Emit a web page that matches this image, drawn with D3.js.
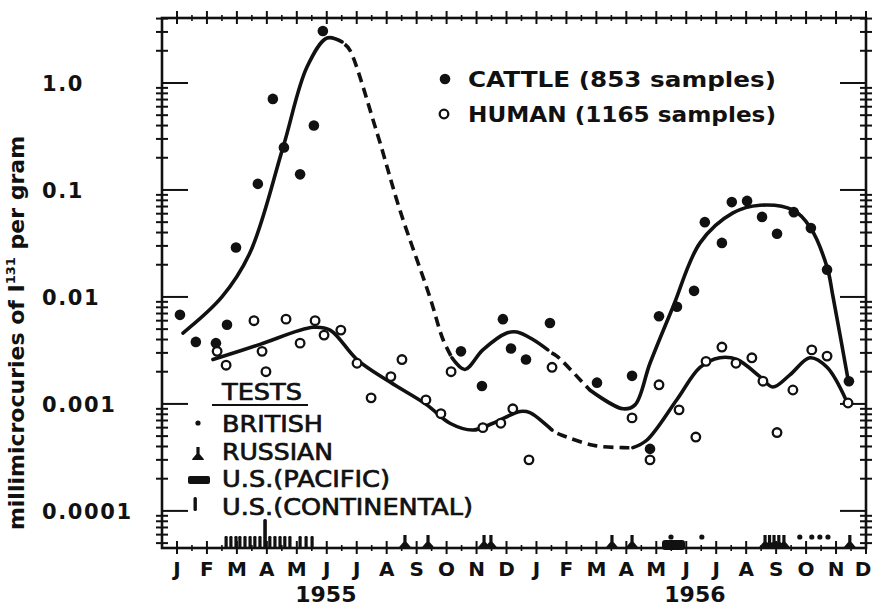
<!DOCTYPE html>
<html><head><meta charset="utf-8">
<script src="https://cdn.jsdelivr.net/npm/d3@7"></script>
<style>body{margin:0;background:#fff}svg{display:block}</style>
</head><body>
<svg id="c" width="872" height="606"></svg>
<script>
// ---------- data ----------
const monthLabels = ["J","F","M","A","M","J","J","A","S","O","N","D","J","F","M","A","M","J","J","A","S","O","N","D"];
const yearLabels = ["1955","1956"];
const yearCenters = [4.97, 17.29];
const yTickValues = [1, 0.1, 0.01, 0.001, 0.0001];
const yTickLabels = ["1.0","0.1","0.01","0.001","0.0001"];

const cattleMonths = [0.10,0.63,1.30,1.67,1.97,2.70,3.20,3.57,4.11,4.57,4.87,9.48,10.18,10.88,11.15,11.65,12.45,14.02,15.19,15.79,16.09,16.69,17.26,17.62,18.19,18.52,19.03,19.53,20.03,20.59,21.16,21.70,22.43];
const cattleValues = [0.0068,0.0038,0.0037,0.0055,0.029,0.114,0.71,0.25,0.14,0.40,3.06,0.0031,0.00147,0.0062,0.0033,0.0026,0.0057,0.00158,0.00183,0.00038,0.0066,0.0081,0.0114,0.050,0.032,0.077,0.079,0.056,0.039,0.062,0.044,0.018,0.00163];

const humanMonths = [1.34,1.64,2.57,2.84,2.97,3.64,4.11,4.61,4.91,5.47,6.01,6.48,7.14,7.51,8.31,8.81,9.15,10.21,10.81,11.21,11.75,12.52,15.19,15.79,16.09,16.76,17.32,17.66,18.19,18.66,19.19,19.56,20.03,20.56,21.19,21.70,22.40];
const humanValues = [0.0031,0.0023,0.0060,0.0031,0.0020,0.0062,0.0037,0.0060,0.0044,0.0049,0.0024,0.00114,0.0018,0.0026,0.00109,0.00081,0.0020,0.00060,0.00066,0.00090,0.00030,0.0022,0.00074,0.00030,0.00151,0.00088,0.00049,0.0025,0.0034,0.0024,0.0027,0.00163,0.00054,0.00135,0.0032,0.0028,0.00102];

// fitted curves: [month, value] knots, solid or dashed pieces
const cattleCurveA = [[0.20,0.0046],[1.50,0.010],[2.44,0.026],[3.54,0.25],[4.34,1.41],[5.01,2.63],[5.51,2.42]];
const cattleCurveB = [[5.60,2.30],[5.77,2.03],[6.68,0.34],[7.44,0.065],[8.44,0.010],[8.88,0.0040],[9.18,0.0027]];
const cattleCurveC = [[9.18,0.0027],[9.61,0.0021],[10.21,0.0032],[11.01,0.0046],[11.35,0.0047],[11.88,0.0040],[12.38,0.0032]];
const cattleCurveD = [[12.50,0.0030],[12.68,0.0028],[13.55,0.00158],[13.78,0.00135]];
const cattleCurveE = [[13.78,0.00135],[14.89,0.00090],[15.29,0.00098],[15.79,0.0024],[16.56,0.0081],[17.46,0.032],[18.56,0.061],[19.46,0.072],[20.56,0.065],[21.13,0.045],[21.70,0.019],[21.90,0.010],[22.40,0.0017]];
const humanCurveA = [[1.20,0.0026],[2.77,0.0036],[4.54,0.0052],[5.11,0.0049],[6.01,0.0026],[7.11,0.0016],[8.34,0.00098],[9.11,0.00066],[9.88,0.00057],[10.55,0.00066],[11.45,0.00085],[11.78,0.00083],[12.52,0.00057]];
const humanCurveB = [[12.70,0.00053],[12.85,0.00051],[13.89,0.00041],[14.89,0.00039],[15.22,0.00039]];
const humanCurveC = [[15.22,0.00039],[15.69,0.00046],[16.69,0.0011],[17.46,0.0022],[18.12,0.0027],[18.69,0.0026],[19.46,0.0018],[19.89,0.00144],[20.46,0.00187],[21.13,0.0027],[21.70,0.0022],[22.36,0.00105]];

// nuclear tests (month positions)
const britishTests = [16.49, 17.52, 20.79, 21.19, 21.46, 21.73];
const russianTests = [7.61, 8.38, 10.25, 10.48, 14.52, 15.19, 19.63, 19.78, 19.93, 20.09, 20.26, 22.46];
const pacificTests = [[16.19, 16.96]];
const continentalTests = [1.64,1.80,1.97,2.10,2.27,2.44,2.60,2.77,3.10,3.27,3.44,3.60,3.77,4.11,4.31,4.51];
const continentalLargeTests = [2.94];

const seriesLegend = ["CATTLE (853 samples)", "HUMAN (1165 samples)"];
const testsLegend = ["BRITISH", "RUSSIAN", "U.S.(PACIFIC)", "U.S.(CONTINENTAL)"];

// ---------- drawing ----------
const ink = "#111";
const svg = d3.select("#c");
svg.append("rect").attr("width",872).attr("height",606).attr("fill","#fff");

const L = 162, R = 866, T = 18, B = 548;
const x = d3.scaleLinear().domain([-0.5, 23]).range([L, R]);
const y = d3.scaleLog().domain([4.5e-5, 4.05]).range([B, T]);

const g = svg.append("g");

// minor y ticks (crossing both axes)
const minor = [];
for (let k = -5; k <= 0; k++) for (let j = 2; j <= 9; j++) {
  const v = j * Math.pow(10, k);
  if (v > 4.5e-5 && v < 4.05) minor.push(v);
}
[L, R].forEach(ax => {
  g.selectAll(null).data(minor).enter().append("line")
    .attr("x1", ax - 6).attr("x2", ax + 6)
    .attr("y1", d => y(d)).attr("y2", d => y(d))
    .attr("stroke", ink).attr("stroke-width", 2);
});
// major y ticks (inward)
g.selectAll(null).data(yTickValues).enter().append("line")
  .attr("x1", L).attr("x2", L + 26).attr("y1", d => y(d)).attr("y2", d => y(d))
  .attr("stroke", ink).attr("stroke-width", 2);
g.selectAll(null).data(yTickValues).enter().append("line")
  .attr("x1", R - 26).attr("x2", R).attr("y1", d => y(d)).attr("y2", d => y(d))
  .attr("stroke", ink).attr("stroke-width", 2);

// x ticks at months and half months (top and bottom)
const monthIdx = d3.range(0, 24);
const halfIdx = d3.range(-0.5, 23, 1).filter(d => d > -0.5);
[T, B].forEach(ay => {
  g.selectAll(null).data(monthIdx).enter().append("line")
    .attr("x1", d => x(d)).attr("x2", d => x(d)).attr("y1", ay - 7).attr("y2", ay + 6)
    .attr("stroke", ink).attr("stroke-width", 2);
  g.selectAll(null).data(halfIdx).enter().append("line")
    .attr("x1", d => x(d)).attr("x2", d => x(d)).attr("y1", ay - 3).attr("y2", ay + 3)
    .attr("stroke", ink).attr("stroke-width", 1.6);
});

// frame
g.append("rect").attr("x", L).attr("y", T).attr("width", R - L).attr("height", B - T)
  .attr("fill", "none").attr("stroke", ink).attr("stroke-width", 2.6);

const font = "'DejaVu Sans', sans-serif";
// month labels (last one kept inside the page edge)
g.selectAll(null).data(monthLabels).enter().append("text")
  .attr("x", (d, i) => Math.min(x(i), 863)).attr("y", 576).attr("text-anchor", "middle")
  .attr("font-family", font).attr("font-weight", "bold").attr("font-size", 20)
  .attr("fill", ink).text(d => d);
g.selectAll(null).data(yearLabels).enter().append("text")
  .attr("x", (d, i) => x(yearCenters[i])).attr("y", 602).attr("text-anchor", "middle")
  .attr("font-family", font).attr("font-weight", "bold").attr("font-size", 22)
  .attr("fill", ink).text(d => d);

// y labels
g.selectAll(null).data(yTickValues).enter().append("text")
  .attr("x", 42).attr("y", d => y(d) + 8).attr("text-anchor", "start")
  .attr("font-family", font).attr("font-weight", "bold").attr("font-size", 21)
  .attr("letter-spacing", 1.6).attr("fill", ink).text((d, i) => yTickLabels[i]);

// y title
const yt = g.append("text").attr("transform", "translate(24,333) rotate(-90)")
  .attr("text-anchor", "middle").attr("font-family", font).attr("font-weight", "bold")
  .attr("font-size", 22).attr("fill", ink);
yt.append("tspan").text("millimicrocuries of I");
yt.append("tspan").attr("font-size", 13).attr("dy", -9).text("131");
yt.append("tspan").attr("dy", 9).text(" per gram");

// curves
const line = d3.line().x(d => x(d[0])).y(d => y(d[1])).curve(d3.curveCatmullRom.alpha(0.5));
const curves = [
  [cattleCurveA, false], [cattleCurveB, true], [cattleCurveC, false], [cattleCurveD, true], [cattleCurveE, false],
  [humanCurveA, false], [humanCurveB, true], [humanCurveC, false]
];
curves.forEach(([pts, dashed]) => {
  g.append("path").attr("d", line(pts)).attr("fill", "none").attr("stroke", ink)
    .attr("stroke-width", 3.6).attr("stroke-linecap", dashed ? "butt" : "round")
    .attr("stroke-dasharray", dashed ? "10,6" : null);
});

// points
g.selectAll(null).data(cattleMonths).enter().append("circle")
  .attr("cx", d => x(d)).attr("cy", (d, i) => y(cattleValues[i])).attr("r", 5.3).attr("fill", ink);
g.selectAll(null).data(humanMonths).enter().append("circle")
  .attr("cx", d => x(d)).attr("cy", (d, i) => y(humanValues[i])).attr("r", 4.3)
  .attr("fill", "#fff").attr("stroke", ink).attr("stroke-width", 2.3);

// test markers
const russianPath = "M-1.6,-13 h3.2 v7 l4.2,5 v1 h-11.6 v-1 l4.2,-5 z";
g.selectAll(null).data(britishTests).enter().append("circle")
  .attr("cx", d => x(d)).attr("cy", B - 11).attr("r", 2.6).attr("fill", ink);
g.selectAll(null).data(russianTests).enter().append("path")
  .attr("transform", d => `translate(${x(d)},${B})`).attr("d", russianPath).attr("fill", ink);
g.selectAll(null).data(pacificTests).enter().append("rect")
  .attr("x", d => x(d[0])).attr("width", d => x(d[1]) - x(d[0])).attr("y", B - 8).attr("height", 10)
  .attr("rx", 3).attr("fill", ink);
g.selectAll(null).data(continentalTests).enter().append("rect")
  .attr("x", d => x(d) - 1.6).attr("width", 3.2).attr("y", B - 12).attr("height", 12)
  .attr("rx", 1.2).attr("fill", ink);
g.selectAll(null).data(continentalLargeTests).enter().append("rect")
  .attr("x", d => x(d) - 1.8).attr("width", 3.6).attr("y", B - 29).attr("height", 29)
  .attr("rx", 1.5).attr("fill", ink);

// series legend
g.append("circle").attr("cx", 445).attr("cy", 79).attr("r", 5.3).attr("fill", ink);
g.append("circle").attr("cx", 444).attr("cy", 114).attr("r", 4.3).attr("fill", "#fff")
  .attr("stroke", ink).attr("stroke-width", 2.3);
g.selectAll(null).data(seriesLegend).enter().append("text")
  .attr("x", 468).attr("y", (d, i) => 87 + i * 35)
  .attr("font-family", font).attr("font-weight", "bold").attr("font-size", 21)
  .attr("textLength", 308).attr("lengthAdjust", "spacingAndGlyphs")
  .attr("fill", ink).text(d => d);

// tests legend
g.append("text").attr("x", 222).attr("y", 400).attr("font-family", font).attr("font-size", 23)
  .attr("stroke", ink).attr("stroke-width", 0.7)
  .attr("textLength", 80).attr("lengthAdjust", "spacingAndGlyphs").attr("fill", ink).text("TESTS");
g.append("line").attr("x1", 212).attr("x2", 308).attr("y1", 405).attr("y2", 405)
  .attr("stroke", ink).attr("stroke-width", 2);
const testWidths = [101, 111, 168, 251];
g.selectAll(null).data(testsLegend).enter().append("text")
  .attr("x", 222).attr("y", (d, i) => 432 + i * 27.5)
  .attr("font-family", font).attr("font-size", 23)
  .attr("stroke", ink).attr("stroke-width", 0.7)
  .attr("textLength", (d, i) => testWidths[i]).attr("lengthAdjust", "spacingAndGlyphs")
  .attr("fill", ink).text(d => d);
g.append("circle").attr("cx", 198).attr("cy", 423).attr("r", 2.6).attr("fill", ink);
g.append("path").attr("transform", "translate(198,460)").attr("d", russianPath).attr("fill", ink);
g.append("rect").attr("x", 188).attr("y", 476).attr("width", 22).attr("height", 8).attr("rx", 2).attr("fill", ink);
g.append("rect").attr("x", 193.5).attr("y", 497).attr("width", 3.4).attr("height", 14).attr("rx", 1.5).attr("fill", ink);
</script>
</body></html>
